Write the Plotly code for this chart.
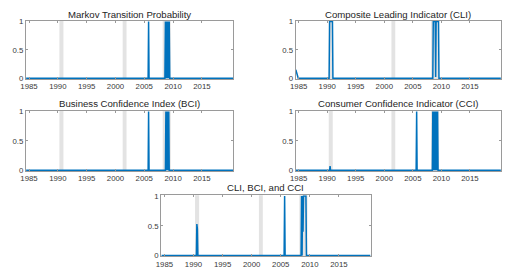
import plotly.graph_objects as go

# ---- data (decimal years, breakpoints) ----
rec_start = [1990.27, 2001.25, 2008.2]
rec_end = [1990.97, 2001.92, 2009.6]

markov_x = [1984.5, 2005.67, 2005.75, 2005.83, 2008.58, 2008.67, 2008.75, 2008.83, 2008.92, 2009.0,
            2009.08, 2009.17, 2009.25, 2009.33, 2009.42, 2009.5, 2020.42]
markov_y = [0, 0, 1, 0, 0, 1, 0, 1, 0, 1, 0, 1, 0, 1, 0, 0, 0]

cli_x = [1984.5, 1984.58, 1984.67, 1984.75, 1984.83, 1984.92, 1990.33, 1990.42, 1990.92, 1991.0,
         2008.5, 2008.58, 2008.92, 2009.0, 2009.08, 2009.5, 2009.58, 2020.42]
cli_y = [0.15, 0.11, 0.06, 0.03, 0.01, 0, 0, 1, 1, 0,
         0, 1, 1, 0.02, 1, 1, 0, 0]

bci_x = [1984.5, 2005.67, 2005.75, 2005.83, 2008.67, 2008.75, 2008.83, 2008.92, 2009.0, 2009.08,
         2009.17, 2009.25, 2009.33, 2009.42, 2020.42]
bci_y = [0, 0, 1, 0, 0, 1, 0, 1, 0, 1, 0, 1, 0, 0, 0]

cci_x = [1984.5, 1990.42, 1990.5, 1990.58, 2005.58, 2005.67, 2005.75, 2008.42, 2008.5, 2008.58,
         2008.67, 2008.75, 2008.83, 2008.92, 2009.0, 2009.08, 2009.17, 2009.25, 2009.33, 2009.42, 2020.42]
cci_y = [0, 0, 0.07, 0, 0, 1, 0, 0, 1, 0,
         1, 0, 1, 0, 1, 0, 1, 0, 1, 0, 0]

all_x = [1984.5, 1990.5, 1990.58, 1990.67, 1990.75, 2005.58, 2005.67, 2005.75, 2008.5, 2008.58,
         2008.67, 2008.75, 2008.83, 2008.92, 2009.33, 2009.42, 2020.42]
all_y = [0, 0, 0.53, 0.45, 0, 0, 1, 0, 0, 1,
         0, 1, 0.4, 1, 1, 0, 0]

titles = ["Markov Transition Probability", "Composite Leading Indicator (CLI)",
          "Business Confidence Index (BCI)", "Consumer Confidence Indicator (CCI)",
          "CLI, BCI, and CCI"]
series = [(markov_x, markov_y), (cli_x, cli_y), (bci_x, bci_y), (cci_x, cci_y), (all_x, all_y)]

x_ticks = [1985, 1990, 1995, 2000, 2005, 2010, 2015]
y_ticks = [0, 0.5, 1]
y_tick_text = ["0", "0.5", "1"]

# ---- layout ----
# The page body keeps the browser's default 8 px margin; the figure is sized
# so that the page exactly fills the 510x279 window (figure drawn at +8,+8).
OFF = 8
W, H = 510 - 2 * OFF, 279 - 2 * OFF
# (left, right, top, bottom) of each axes, in window pixels
boxes = [(20, 230, 17, 77), (293, 501, 17, 77), (20, 230, 110, 172), (293, 501, 110, 172),
         (157, 369, 197, 260)]
title_base = [15.6, 15.6, 107.0, 107.0, 193.8]

LINE = "#0072BD"
AX = "#9a9a9a"
TXT = "#3a3a3a"
FONT = "Liberation Sans, Arial, sans-serif"
TFS = 9.6

fig = go.Figure()
shapes = []
annotations = []
for i, ((xs, ys), (l, r, t, b), title, tb) in enumerate(zip(series, boxes, titles, title_base)):
    n = "" if i == 0 else str(i + 1)
    l, r, t, b, tb = l - OFF, r - OFF, t - OFF, b - OFF, tb - OFF
    fig.add_trace(go.Scatter(x=xs, y=ys, mode="lines", line=dict(color=LINE, width=1.5),
                             xaxis="x" + n, yaxis="y" + n, showlegend=False, hoverinfo="skip"))
    fig.layout["xaxis" + n] = dict(
        domain=[l / W, r / W], anchor="y" + n, range=[1984.45, 2020.45],
        tickvals=x_ticks, ticks="inside", ticklen=2, tickcolor=AX, showline=True, linecolor=AX,
        linewidth=1, mirror="ticks", showgrid=False, zeroline=False,
        tickfont=dict(family=FONT, size=7.8, color=TXT))
    fig.layout["yaxis" + n] = dict(
        domain=[1 - b / H, 1 - t / H], anchor="x" + n, range=[-0.012, 1.012],
        tickvals=y_ticks, ticktext=y_tick_text, ticks="inside", ticklen=2, tickcolor=AX,
        showline=True, linecolor=AX, linewidth=1, mirror="ticks", showgrid=False, zeroline=False,
        tickfont=dict(family=FONT, size=7.8, color=TXT))
    for s, e in zip(rec_start, rec_end):
        shapes.append(dict(type="rect", xref="x" + n, yref="y" + n + " domain", x0=s, x1=e, y0=0, y1=1,
                           fillcolor="#e3e3e3", line=dict(width=0), layer="below"))
    annotations.append(dict(text=title, xref="paper", yref="paper", x=(l + r) / 2 / W,
                            y=1 - (tb + 0.212 * TFS) / H, borderpad=0,
                            xanchor="center", yanchor="bottom", showarrow=False,
                            font=dict(family=FONT, size=TFS, color="#1e1e1e")))

fig.update_layout(width=W, height=H, margin=dict(l=0, r=0, t=0, b=0),
                  paper_bgcolor="white", plot_bgcolor="white",
                  shapes=shapes, annotations=annotations)
fig.write_html("out.html", config={"displayModeBar": False, "staticPlot": True})
